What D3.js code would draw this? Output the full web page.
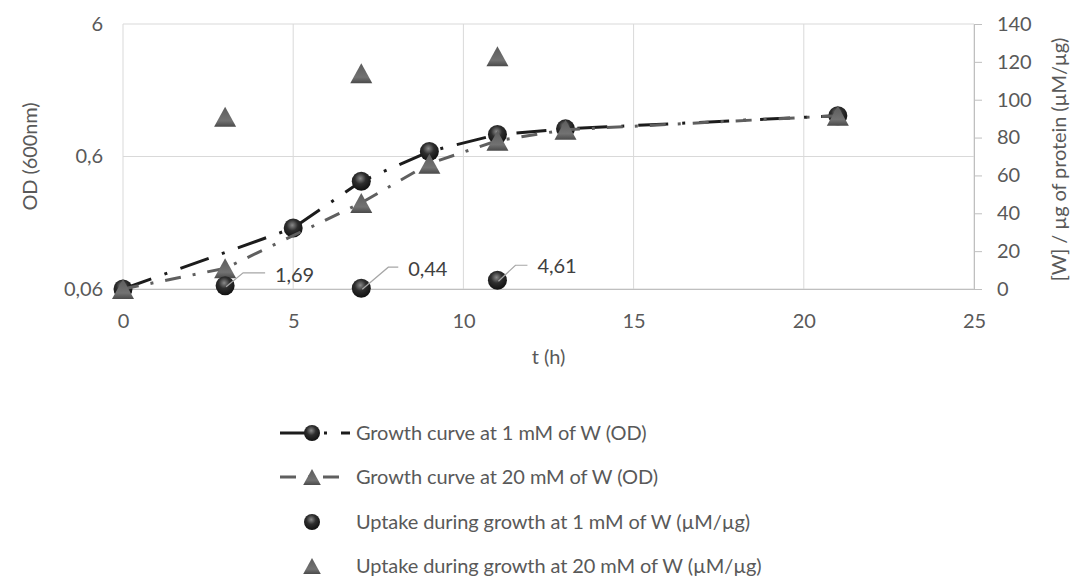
<!DOCTYPE html>
<html>
<head>
<meta charset="utf-8">
<script src="https://cdn.jsdelivr.net/npm/d3@7"></script>
<style>
  body { margin: 0; background: #fff; }
  svg text { font-family: Lato, "Open Sans", sans-serif; letter-spacing: -0.1px; }
</style>
</head>
<body>
<div id="chart"></div>
<script>
// growth curves, OD (600nm), left log axis
var tGrowth1 = [0, 5, 7, 9, 11, 13, 21];
var odGrowth1 = [0.06, 0.173, 0.39, 0.655, 0.88, 0.97, 1.22];
var tGrowth20 = [0, 3, 7, 9, 11, 13, 21];
var odGrowth20 = [0.06, 0.086, 0.268, 0.53, 0.79, 0.955, 1.22];
// uptake, µM/µg, right axis
var tUptake = [3, 7, 11];
var uptake1 = [1.69, 0.44, 4.61];
var uptake20 = [91, 114, 123];
var uptake1Labels = ["1,69", "0,44", "4,61"];

var xTicks = [0, 5, 10, 15, 20, 25];
var odTicks = [0.06, 0.6, 6];
var odTickLabels = ["0,06", "0,6", "6"];
var rightTicks = [0, 20, 40, 60, 80, 100, 120, 140];

var legendNames = [
  "Growth curve at 1 mM of W (OD)",
  "Growth curve at 20 mM of W (OD)",
  "Uptake during growth at 1 mM of W (µM/µg)",
  "Uptake during growth at 20 mM of W (µM/µg)"
];

var W = 1075, H = 579;
var margin = {top: 24, right: 101, bottom: 290, left: 123};
var width = W - margin.left - margin.right,
    height = H - margin.top - margin.bottom;
var fs = "20px";

var svg = d3.select("#chart").append("svg")
    .attr("width", W).attr("height", H);

var defs = svg.append("defs");
var rg = defs.append("radialGradient").attr("id", "ball")
    .attr("cx", "45%").attr("cy", "35%").attr("r", "65%");
rg.append("stop").attr("offset", "0%").attr("stop-color", "#8a8a8a");
rg.append("stop").attr("offset", "45%").attr("stop-color", "#2e2e2e");
rg.append("stop").attr("offset", "100%").attr("stop-color", "#101010");
var lg = defs.append("linearGradient").attr("id", "tri")
    .attr("x1", 0).attr("y1", 0).attr("x2", 0).attr("y2", 1);
lg.append("stop").attr("offset", "0%").attr("stop-color", "#5c5c5c");
lg.append("stop").attr("offset", "70%").attr("stop-color", "#727272");
lg.append("stop").attr("offset", "100%").attr("stop-color", "#4a4a4a");

var g = svg.append("g").attr("transform", "translate(" + margin.left + "," + margin.top + ")");

var x = d3.scaleLinear().domain([0, 25]).range([0, width]);
var yL = d3.scaleLog().domain([0.06, 6]).range([height, 0]);
var yR = d3.scaleLinear().domain([0, 140]).range([height, 0]);

// gridlines
g.selectAll(".vgrid").data(xTicks).enter().append("line")
    .attr("x1", d => x(d)).attr("x2", d => x(d))
    .attr("y1", 0).attr("y2", height)
    .attr("stroke", "#d9d9d9").attr("stroke-width", 1);
g.selectAll(".hgrid").data(odTicks).enter().append("line")
    .attr("x1", 0).attr("x2", width)
    .attr("y1", d => yL(d)).attr("y2", d => yL(d))
    .attr("stroke", "#d9d9d9").attr("stroke-width", 1);

// bottom axis
var xAxis = g.append("g").attr("transform", "translate(0," + height + ")")
    .call(d3.axisBottom(x).tickValues(xTicks).tickSize(0).tickPadding(25));
// left axis
var yAxisL = g.append("g")
    .call(d3.axisLeft(yL).tickValues(odTicks).tickSize(0).tickPadding(20)
      .tickFormat((d, i) => odTickLabels[i]));
// right axis
var yAxisR = g.append("g").attr("transform", "translate(" + width + ",0)")
    .call(d3.axisRight(yR).tickValues(rightTicks).tickSize(8).tickPadding(15));

[xAxis, yAxisL, yAxisR].forEach(a => {
  a.selectAll("text").attr("fill", "#595959").style("font-size", fs)
    .style("font-family", "Lato, 'Open Sans', sans-serif");
  a.selectAll("line").attr("stroke", "#bfbfbf");
  a.select(".domain").attr("stroke", "#bfbfbf");
});
yAxisL.select(".domain").remove();

// axis titles
g.append("text").attr("x", width / 2).attr("y", height + 75)
    .attr("text-anchor", "middle").attr("fill", "#595959").style("font-size", fs)
    .text("t (h)");
g.append("text")
    .attr("transform", "translate(" + (-86) + "," + (height / 2) + ") rotate(-90)")
    .attr("text-anchor", "middle").attr("fill", "#595959").style("font-size", fs)
    .text("OD (600nm)");
g.append("text")
    .attr("transform", "translate(" + (width + 92) + "," + (height / 2 + 3) + ") rotate(-90)")
    .attr("text-anchor", "middle").attr("fill", "#595959").style("font-size", fs)
    .text("[W] / µg of protein (µM/µg)");

var line1 = d3.line().x((d, i) => x(tGrowth1[i])).y(d => yL(d));
var line20 = d3.line().x((d, i) => x(tGrowth20[i])).y(d => yL(d));

var dash1 = "30,14,3,14", dash20 = "16,12,3,12";

function drawBall(sel, cx, cy, r) {
  sel.append("circle").attr("cx", cx).attr("cy", cy).attr("r", r || 9.5)
    .attr("fill", "url(#ball)");
}
function drawTri(sel, cx, cy, s) {
  s = s || 1;
  sel.append("path")
    .attr("d", "M" + cx + "," + (cy - 10 * s) + "L" + (cx + 11 * s) + "," + (cy + 10 * s) + "L" + (cx - 11 * s) + "," + (cy + 10 * s) + "Z")
    .attr("fill", "url(#tri)");
}

// series 1: growth at 1 mM
g.append("path").datum(odGrowth1).attr("d", line1)
    .attr("fill", "none").attr("stroke", "#1c1c1c").attr("stroke-width", 3)
    .attr("stroke-dasharray", dash1);
odGrowth1.forEach((v, i) => drawBall(g, x(tGrowth1[i]), yL(v)));

// series 2: growth at 20 mM
g.append("path").datum(odGrowth20).attr("d", line20)
    .attr("fill", "none").attr("stroke", "#5f5f5f").attr("stroke-width", 3)
    .attr("stroke-dasharray", dash20);
odGrowth20.forEach((v, i) => drawTri(g, x(tGrowth20[i]), yL(v)));

// series 3: uptake at 1 mM
uptake1.forEach((v, i) => drawBall(g, x(tUptake[i]), yR(v)));
// series 4: uptake at 20 mM
uptake20.forEach((v, i) => drawTri(g, x(tUptake[i]), yR(v)));

// data labels with leader lines (placement offsets from the point)
var labelPlace = [
  {dx: 18, dy: -13, run: 22, ty: 2},
  {dx: 27, dy: -21, run: 10, ty: 2},
  {dx: 18, dy: -15, run: 12, ty: 1}
];
uptake1.forEach((v, i) => {
  var cx = x(tUptake[i]), cy = yR(v), p = labelPlace[i];
  var ex = cx + p.dx, ey = cy + p.dy;
  g.append("path")
    .attr("d", "M" + (cx + 1) + "," + (cy + 1) + "L" + ex + "," + ey + "L" + (ex + p.run) + "," + ey)
    .attr("fill", "none").attr("stroke", "#a6a6a6").attr("stroke-width", 1.2);
  g.append("text").attr("x", ex + p.run + 10).attr("y", ey + p.ty)
    .attr("dy", "0.36em")
    .attr("fill", "#404040").style("font-size", fs)
    .text(uptake1Labels[i]);
});

// legend
var legY = [433, 477, 522, 566];
var leg = svg.append("g");
legendNames.forEach((name, i) => {
  var y = legY[i];
  if (i === 0) {
    leg.append("line").attr("x1", 280).attr("x2", 350).attr("y1", y).attr("y2", y)
      .attr("stroke", "#1c1c1c").attr("stroke-width", 3).attr("stroke-dasharray", dash1);
    drawBall(leg, 312, y, 8);
  } else if (i === 1) {
    leg.append("line").attr("x1", 280).attr("x2", 350).attr("y1", y).attr("y2", y)
      .attr("stroke", "#5f5f5f").attr("stroke-width", 3).attr("stroke-dasharray", dash20);
    drawTri(leg, 312, y, 0.8);
  } else if (i === 2) {
    drawBall(leg, 312, y, 8);
  } else {
    drawTri(leg, 312, y, 0.8);
  }
  leg.append("text").attr("x", 356).attr("y", y).attr("dy", "0.36em")
    .attr("fill", "#595959").style("font-size", fs).text(name);
});
</script>
</body>
</html>
